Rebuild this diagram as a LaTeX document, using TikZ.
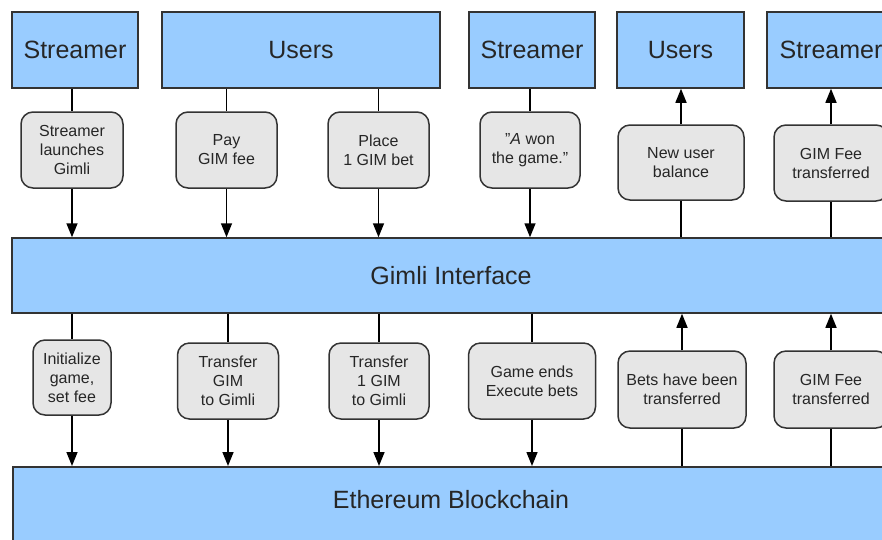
\documentclass[tikz,border=0pt]{standalone}
\usepackage{fontspec}
\setmainfont{Liberation Sans}
\usetikzlibrary{arrows.meta}
\definecolor{boxblue}{HTML}{99CCFF}
\definecolor{boxgray}{HTML}{E6E6E6}
\definecolor{edge}{HTML}{333333}
\tikzset{
  bluebox/.style={draw=edge, line width=1.5pt, fill=boxblue, rectangle, inner sep=0pt,
    font=\fontsize{25}{29}\selectfont, text=black!85},
  graybox/.style={draw=edge, line width=1.5pt, fill=boxgray, rectangle, rounded corners=12pt,
    inner sep=0pt, align=center, font=\fontsize{16}{19}\selectfont, text=black!85},
  bigtext/.style={inner sep=0pt, font=\fontsize{25}{29}\selectfont, text=black!85},
  conn/.style={draw=black, line width=1.5pt},
  arr/.style={conn, -{Triangle[length=14pt,width=11pt]}},
}
\begin{document}
\begin{tikzpicture}[x=1pt,y=-1pt]
\useasboundingbox (0,0) rectangle (882,539);
\clip (0,0) rectangle (882,539);
\fill[white] (0,0) rectangle (882,539);
% top actors
\node[bluebox, minimum width=126pt, minimum height=76pt] (s1) at (75,50) {Streamer};
\node[bluebox, minimum width=278pt, minimum height=76pt] (u1) at (301,50) {Users};
\node[bluebox, minimum width=126pt, minimum height=76pt] (s2) at (532,50) {Streamer};
\node[bluebox, minimum width=127pt, minimum height=76pt] (u2) at (680.5,50) {Users};
\node[bluebox, minimum width=128pt, minimum height=76pt] (s3) at (831,50) {Streamer};
% interface and blockchain
\node[bluebox, minimum width=878pt, minimum height=75pt] (gimli) at (451,275.5) {Gimli Interface};
\node[bluebox, minimum width=878pt, minimum height=84pt, anchor=north west] (eth) at (12,466) {};
\node[bigtext] (ethtext) at (451,500) {Ethereum Blockchain};
% top row of steps
\node[graybox, minimum width=102pt, minimum height=76pt] (b1) at (72,150) {Streamer\\launches\\Gimli};
\node[graybox, minimum width=101pt, minimum height=76pt] (b2) at (226.5,150) {Pay\\GIM fee};
\node[graybox, minimum width=101pt, minimum height=76pt] (b3) at (378.5,150) {Place\\1 GIM bet};
\node[graybox, minimum width=100pt, minimum height=76pt] (b4) at (530,150) {"\textit{A} won\\the game."};
\node[graybox, minimum width=126pt, minimum height=75pt] (b5) at (681,162.5) {New user\\balance};
\node[graybox, minimum width=114pt, minimum height=76pt] (b6) at (831,163) {GIM Fee\\transferred};
% bottom row of steps
\node[graybox, minimum width=78pt, minimum height=75pt] (b7) at (72,377.5) {Initialize\\game,\\set fee};
\node[graybox, minimum width=101pt, minimum height=76pt] (b8) at (228,381) {Transfer\\GIM\\to Gimli};
\node[graybox, minimum width=100pt, minimum height=76pt] (b9) at (379,381) {Transfer\\1 GIM\\to Gimli};
\node[graybox, minimum width=127pt, minimum height=76pt] (b10) at (532,381) {Game ends\\Execute bets};
\node[graybox, minimum width=128pt, minimum height=77pt] (b11) at (682,389.5) {Bets have been\\transferred};
\node[graybox, minimum width=114pt, minimum height=77pt] (b12) at (831,389.5) {GIM Fee\\transferred};
% connectors, upper level
\foreach \b/\t in {b1/s1, b2/u1, b3/u1, b4/s2}{
  \draw[conn] (\b.north |- \t.south) -- (\b.north);
  \draw[arr] (\b.south) -- (\b.south |- gimli.north);
}
\foreach \b/\t in {b5/u2, b6/s3}{
  \draw[conn] (\b.south |- gimli.north) -- (\b.south);
  \draw[arr] (\b.north) -- (\b.north |- \t.south);
}
% connectors, lower level
\foreach \b in {b7, b8, b9, b10}{
  \draw[conn] (\b.north |- gimli.south) -- (\b.north);
  \draw[arr] (\b.south) -- (\b.south |- eth.north);
}
\foreach \b in {b11, b12}{
  \draw[conn] (\b.south |- eth.north) -- (\b.south);
  \draw[arr] (\b.north) -- (\b.north |- gimli.south);
}
\end{tikzpicture}
\end{document}
